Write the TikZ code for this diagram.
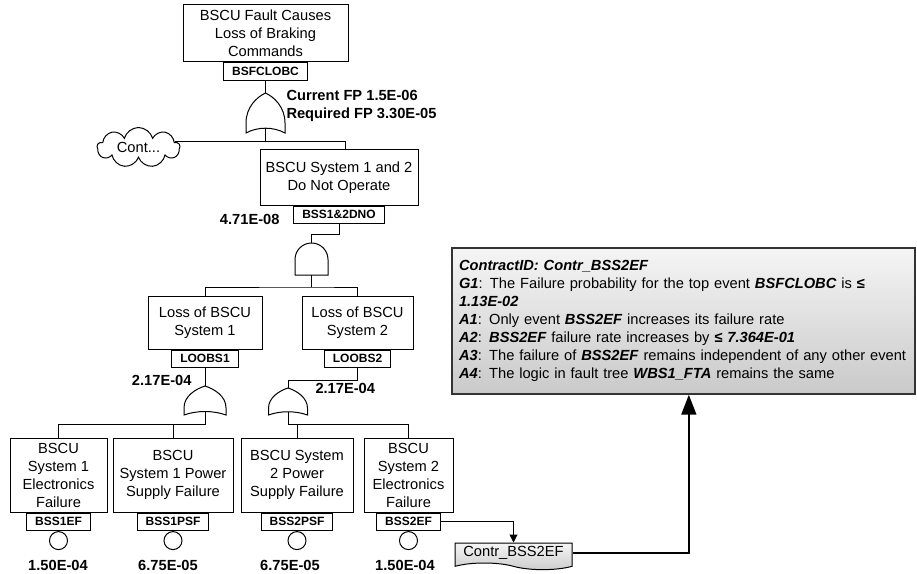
\documentclass[tikz,border=0pt]{standalone}
\usepackage{fontspec}
\setmainfont{Liberation Sans}
\usepackage{tikz}
\usetikzlibrary{shapes.symbols, arrows.meta, positioning, calc}

\newcommand{\bfit}[1]{\textbf{\textit{#1}}}

\tikzset{
  evbox/.style 2 args={draw, fill=white, align=center, inner sep=1pt,
    minimum width=#1*0.75pt, minimum height=#2*0.75pt,
    font=\fontsize{11}{13.5}\selectfont},
  idbox/.style={draw, fill=white, inner xsep=6.4pt, inner ysep=0pt,
    minimum height=13.2pt, font=\bfseries\fontsize{9}{10}\selectfont},
  basic/.style={draw, circle, minimum size=13.5pt, inner sep=0pt},
  prob/.style={inner sep=0pt, font=\bfseries\fontsize{11}{13.5}\selectfont},
  pics/andgate/.style n args={2}{code={
    \draw[fill=white] (-#1/2,#2) -- (-#1/2,#1/2)
      arc[start angle=180, end angle=360, radius=#1/2] -- (#1/2,#2) -- cycle;
    \coordinate (-top) at (0,0);
    \coordinate (-out) at (0,#2);
  }},
  pics/orgate/.style n args={2}{code={
    \draw[fill=white] (0,0) .. controls (0.22*#1,0.1*#2) and (0.5*#1,0.35*#2) .. (0.5*#1,0.75*#2)
      -- (0.5*#1,#2)
      .. controls (0.2*#1,0.84*#2) and (-0.2*#1,0.84*#2) .. (-0.5*#1,#2)
      -- (-0.5*#1,0.75*#2)
      .. controls (-0.5*#1,0.35*#2) and (-0.22*#1,0.1*#2) .. cycle;
    \coordinate (-top) at (0,0);
    \coordinate (-out) at (0,0.88*#2);
  }},
}

\begin{document}
\begin{tikzpicture}[x=0.75pt, y=-0.75pt, line width=0.75pt]
  \useasboundingbox (0,0) rectangle (917,574);

  % Top event
  \node[evbox={165}{57}] (top) at (265.5,33.5) {BSCU Fault Causes\\Loss of Braking\\Commands};
  \node[idbox, below=0pt of top] (topid) {BSFCLOBC};
  \pic (g0) at (265.5,93) {orgate={39}{40}};
  \node[prob, anchor=west, align=left] (fp) at (286,106) {Current FP 1.5E-06\\Required FP 3.30E-05};

  % Second level
  \node[cloud, cloud puffs=9, aspect=2.4, draw, fill=white, inner sep=0pt,
    minimum width=62pt, minimum height=26pt, font=\fontsize{11}{13.5}\selectfont] (cont) at (138.5,147.5) {Cont...};
  \node[evbox={158}{55}] (dno) at (339,177.5) {BSCU System 1 and 2\\Do Not Operate};
  \node[idbox, below=0pt of dno] (dnoid) {BSS1\&2DNO};
  \node[prob, anchor=east] (p0) at (280,219) {4.71E-08};
  \pic (g1) at (311.5,243) {andgate={33}{32}};

  % Subsystems
  \node[evbox={114}{53}] (l1) at (205,322.5) {Loss of BSCU\\System 1};
  \node[idbox, below=0pt of l1] (l1id) {LOOBS1};
  \node[evbox={111}{53}] (l2) at (357.5,322.5) {Loss of BSCU\\System 2};
  \node[idbox, below=0pt of l2] (l2id) {LOOBS2};
  \node[prob, anchor=east] (p1) at (192,380) {2.17E-04};
  \node[prob, anchor=west] (p2) at (315,388) {2.17E-04};
  \pic (g2) at (205,386) {orgate={42}{29}};
  \pic (g3) at (288,388) {orgate={39}{27}};

  % Basic events
  \node[evbox={97}{74}] (b1) at (58.5,475) {BSCU\\System 1\\Electronics\\Failure};
  \node[evbox={120}{74}] (b2) at (173,475) {BSCU\\System 1 Power\\Supply Failure};
  \node[evbox={112}{74}] (b3) at (297,475) {BSCU System\\2 Power\\Supply Failure};
  \node[evbox={89}{74}] (b4) at (408.5,475) {BSCU\\System 2\\Electronics\\Failure};
  \node[idbox, below=0pt of b1] (b1id) {BSS1EF};
  \node[idbox, below=0pt of b2] (b2id) {BSS1PSF};
  \node[idbox, below=0pt of b3] (b3id) {BSS2PSF};
  \node[idbox, below=0pt of b4] (b4id) {BSS2EF};
  \node[basic, below=0pt of b1id] (e1) {};
  \node[basic, below=0pt of b2id] (e2) {};
  \node[basic, below=0pt of b3id] (e3) {};
  \node[basic, below=0pt of b4id] (e4) {};
  \node[prob] (v1) at (58,565) {1.50E-04};
  \node[prob] (v2) at (168,565) {6.75E-05};
  \node[prob] (v3) at (290,565) {6.75E-05};
  \node[prob] (v4) at (405,565) {1.50E-04};

  % Contract
  \node[tape, tape bend top=none, tape bend bottom=out and in, tape bend height=5pt,
    draw, top color=gray!8, bottom color=gray!40, minimum width=87.75pt, minimum height=20pt,
    inner sep=2pt, font=\fontsize{11}{13.5}\selectfont] (contr) at (513.5,553) {Contr\_BSS2EF};
  \node[draw=black!80, line width=1pt, top color=gray!8, bottom color=gray!42,
    text width=336.75pt, align=left, inner xsep=5.25pt, minimum height=109.5pt,
    font=\fontsize{11}{13.5}\selectfont] (cbox) at (683.5,321)
    {\bfit{ContractID: Contr\_BSS2EF}\\
     \bfit{G1}: The Failure probability for the top event \bfit{BSFCLOBC} is \textbf{≤}\\
     \bfit{1.13E-02}\\
     \bfit{A1}: Only event \bfit{BSS2EF} increases its failure rate\\
     \bfit{A2}: \bfit{BSS2EF} failure rate increases by \bfit{≤ 7.364E-01}\\
     \bfit{A3}: The failure of \bfit{BSS2EF} remains independent of any other event\\
     \bfit{A4}: The logic in fault tree \bfit{WBS1\_FTA} remains the same};

  % Connections
  \draw (topid.south) -- (g0-top);
  \draw (g0-out) -- (g0-out |- cont.10);
  \draw (cont.10) -| ([xshift=5pt]dno.north);
  \draw (dnoid.south) -- ++(0,10) -| (g1-top);
  \draw (g1-out) -- ++(0,12) coordinate (j1);
  \draw (l1.north) |- (j1) -| (l2.north);
  \draw (l1id.south) -- (g2-top);
  \draw (l2id.south) -- ++(0,12) -| (g3-top);
  \draw (g2-out) -- ++(0,13) coordinate (j2);
  \draw (b1.north) |- (j2) -| (b2.north);
  \draw (g3-out) -- ++(0,13) coordinate (j3);
  \draw (b3.north) |- (j3) -| (b4.north);
  \draw[-{Triangle[length=6pt, width=6pt]}] (b4id.east) -| (contr.north);
  \draw[line width=2pt, -{Triangle[length=15pt, width=11pt]}] (contr.east) -| ([xshift=4pt]cbox.south);
\end{tikzpicture}
\end{document}
